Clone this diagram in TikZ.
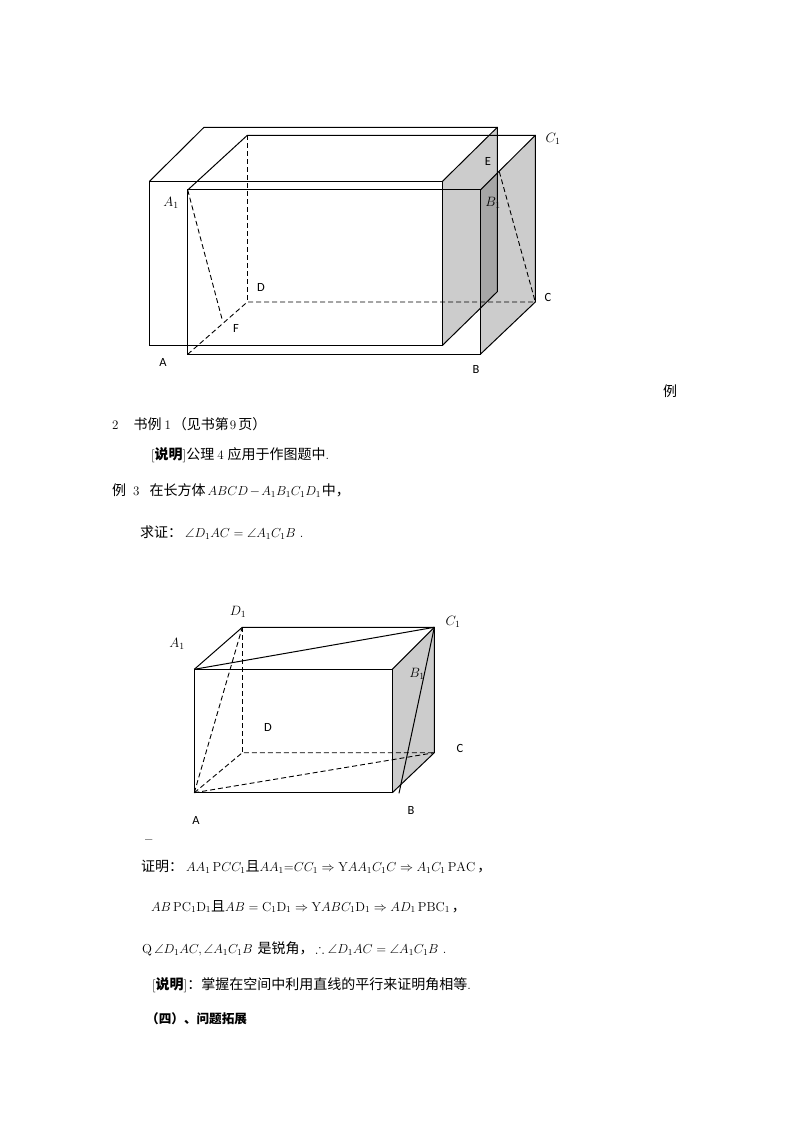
\documentclass[tikz,border=0pt]{standalone}
\usepackage{fix-cm}
\usepackage{amssymb}
\usepackage{fontspec}
\newfontfamily\cjkfont{Noto Sans CJK SC}
\newfontfamily\labelfont{Carlito}
\newcommand{\zh}[1]{{\fontsize{14}{16}\selectfont\cjkfont #1}}
\newcommand{\zhb}[1]{{\fontsize{14}{16}\selectfont\cjkfont\bfseries #1}}
\definecolor{facegray}{HTML}{CCCCCC}
\definecolor{overlapgray}{HTML}{A6A6A6}
\tikzset{edge/.style={line width=1pt},hidden/.style={line width=.9pt,dash pattern=on 5pt off 3pt}}
\tikzset{ptlabel/.style={inner sep=0pt,font=\fontsize{12.5}{14}\selectfont\labelfont}}
\tikzset{mathlabel/.style={inner sep=0pt,font=\fontsize{13.5}{16}\selectfont}}
\tikzset{textline/.style={anchor=west,inner sep=0pt,font=\fontsize{13}{16}\selectfont}}

\begin{document}
\begin{tikzpicture}[x=1pt,y=-1pt]
	\useasboundingbox (0,0) rectangle (794,1123);

	% first figure, two boxes
	\coordinate (p-a1) at (149.5,181.3);
	\coordinate (p-b1) at (442.5,181.3);
	\coordinate (p-a) at (149.5,345.3);
	\coordinate (p-b) at (442.5,345.3);
	\coordinate (p-d1) at (204,127.3);
	\coordinate (p-c1) at (497.3,127.3);
	\coordinate (p-c) at (497.3,291.7);

	\coordinate (q-a1) at (187.7,190);
	\coordinate (q-b1) at (480.3,190);
	\coordinate (q-a) at (187.7,354.3);
	\coordinate (q-b) at (480.3,354.3);
	\coordinate (q-d1) at (247.3,135.3);
	\coordinate (q-c1) at (535.3,135.3);
	\coordinate (q-d) at (247.3,302);
	\coordinate (q-c) at (535.3,302);
	\coordinate (q-e) at (499.3,171.7);
	\coordinate (q-f) at (222.3,320);

	\fill[facegray] (p-b1) -- (p-c1) -- (p-c) -- (p-b) -- cycle;
	\fill[facegray] (q-b1) -- (q-c1) -- (q-c) -- (q-b) -- cycle;
	\begin{scope}
		\clip (p-b1) -- (p-c1) -- (p-c) -- (p-b) -- cycle;
		\fill[overlapgray] (q-b1) -- (q-c1) -- (q-c) -- (q-b) -- cycle;
	\end{scope}

	\draw[edge] (p-a1) -- (p-b1) -- (p-b) -- (p-a) -- cycle;
	\draw[edge] (p-a1) -- (p-d1) -- (p-c1) -- (p-c) -- (p-b);
	\draw[edge] (p-b1) -- (p-c1);
	\draw[edge] (q-a1) -- (q-b1) -- (q-b) -- (q-a) -- cycle;
	\draw[edge] (q-a1) -- (q-d1) -- (q-c1) -- (q-c) -- (q-b);
	\draw[edge] (q-b1) -- (q-c1);
	\draw[hidden] (q-d1) -- (q-d);
	\draw[hidden] (q-a) -- (q-d) -- (q-c);
	\draw[hidden] (q-a1) -- (q-f);
	\draw[hidden] (q-e) -- (q-c);

	\node[mathlabel] (lab-c1) at (553,139) {$C_1$};
	\node[ptlabel] (lab-e) at (488,161) {E};
	\node[mathlabel] (lab-a1) at (171,203) {$A_1$};
	\node[mathlabel] (lab-b1) at (493,203) {$B_1$};
	\node[ptlabel] (lab-d) at (261,287) {D};
	\node[ptlabel] (lab-c) at (548,297) {C};
	\node[ptlabel] (lab-f) at (236,328) {F};
	\node[ptlabel] (lab-a) at (163,362) {A};
	\node[ptlabel] (lab-b) at (476,369) {B};

	% text between the figures
	\node[textline] (txt-li) at (663,391) {\zh{例}};
	\node[textline] (txt-two) at (112,424.5) {2\hspace{15pt}\zh{书例}\hspace{3pt}1\hspace{2pt}\zh{（见书第}\hspace{1pt}9\hspace{2pt}\zh{页）}};
	\node[textline] (txt-note) at (151,455.5) {[\zhb{说明}]\zh{公理}\hspace{3pt}4\hspace{4pt}\zh{应用于作图题中}.};
	\node[textline] (txt-three) at (112,490.5) {\zh{例}\hspace{7pt}3\hspace{10pt}\zh{在长方体}\hspace{2pt}{\medmuskip=2mu$ABCD-A_1B_1C_1D_1$}\hspace{1pt}\zh{中，}};
	\node[textline] (txt-goal) at (140,532.5) {\zh{求证：}\hspace{3pt}$\angle D_1AC=\angle A_1C_1B$ .};

	% second figure
	\coordinate (r-a1) at (194.3,669.3);
	\coordinate (r-b1) at (392.3,669.3);
	\coordinate (r-a) at (194.3,792.7);
	\coordinate (r-b) at (392.3,792.7);
	\coordinate (r-d1) at (242.3,627.3);
	\coordinate (r-c1) at (434.3,627.3);
	\coordinate (r-d) at (242.3,752.7);
	\coordinate (r-c) at (434.3,752.7);
	\coordinate (r-g) at (399,793.3);

	\fill[facegray] (r-b1) -- (r-c1) -- (r-c) -- (r-b) -- cycle;

	\draw[edge] (r-a1) -- (r-b1) -- (r-b) -- (r-a) -- cycle;
	\draw[edge] (r-a1) -- (r-d1) -- (r-c1) -- (r-c) -- (r-b);
	\draw[edge] (r-b1) -- (r-c1);
	\draw[edge] (r-a1) -- (r-c1);
	\draw[edge] (r-c1) -- (r-g);
	\draw[hidden] (r-d1) -- (r-d);
	\draw[hidden] (r-a) -- (r-d) -- (r-c);
	\draw[hidden] (r-a) -- (r-d1);
	\draw[hidden] (r-a) -- (r-c);

	\node[mathlabel] (lab2-d1) at (238,612) {$D_1$};
	\node[mathlabel] (lab2-a1) at (177,644) {$A_1$};
	\node[mathlabel] (lab2-c1) at (453,622) {$C_1$};
	\node[mathlabel] (lab2-b1) at (417,674) {$B_1$};
	\node[ptlabel] (lab2-d) at (268,727) {D};
	\node[ptlabel] (lab2-c) at (460,748) {C};
	\node[ptlabel] (lab2-b) at (411,810) {B};
	\node[ptlabel] (lab2-a) at (196,820) {A};

	% proof
	\node[textline] (txt-dash) at (145,842) {\textbf{--}};
	\node[textline] (txt-proof) at (141,866.5) {\zh{证明：}\hspace{3pt}$AA_1\,\mathrm{P}CC_1$\zh{且}$AA_1{=}CC_1\Rightarrow\mathrm{Y}AA_1C_1C\Rightarrow A_1C_1\,\mathrm{PAC}$\,\zh{，}};
	\node[textline] (txt-line2) at (151,906.5) {$AB\,\mathrm{PC_1D_1}$\zh{且}$AB=\mathrm{C_1D_1}\Rightarrow\mathrm{Y}ABC_1\mathrm{D_1}\Rightarrow AD_1\,\mathrm{PBC_1}$\hspace{2pt}\zh{，}};
	\node[textline] (txt-line3) at (142,948.5) {$\mathrm{Q}\,\angle D_1AC,\angle A_1C_1B$\hspace{5pt}\zh{是锐角，}\hspace{2pt}$\therefore\angle D_1AC=\angle A_1C_1B$ .};
	\node[textline] (txt-note2) at (152,985.5) {[\zhb{说明}]\zh{：掌握在空间中利用直线的平行来证明角相等}.};
	\node[textline] (txt-head) at (146,1018.5) {{\fontsize{12.6}{15}\selectfont\cjkfont\bfseries （四）、问题拓展}};
\end{tikzpicture}
\end{document}
